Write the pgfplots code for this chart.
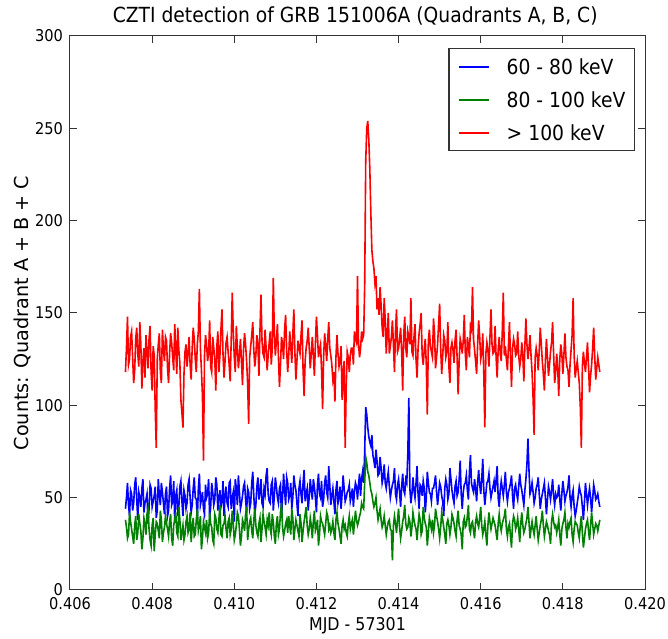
\documentclass[border=0pt]{standalone}
\usepackage{pgfplots}
\pgfplotsset{compat=1.18}
\usepackage{pgfplotstable}
\usepackage{fontspec}
\setmainfont{DejaVu Sans}[FakeStretch=0.9]
\newfontfamily\ylabfont{DejaVu Sans}

% counts per bin
\pgfplotstableread{
x R B G
0.407350 118 44 38
0.407375 131 50 34
0.407400 148 58 28
0.407425 122 46 30
0.407450 125 40 42
0.407475 137 54 37
0.407500 140 52 33
0.407525 126 43 29
0.407550 112 47 25
0.407575 119 57 35
0.407600 136 61 40
0.407625 142 49 27
0.407650 128 38 31
0.407675 121 53 41
0.407700 145 50 36
0.407725 133 45 32
0.407750 109 55 22
0.407775 124 60 28
0.407800 131 42 39
0.407825 115 47 36
0.407850 138 49 30
0.407875 129 52 41
0.407900 120 36 44
0.407925 136 44 33
0.407950 143 57 27
0.407975 118 55 24
0.408000 108 45 35
0.408025 132 48 39
0.408050 127 51 21
0.408075 98 56 30
0.408100 77 39 37
0.408125 125 43 36
0.408150 133 60 32
0.408175 139 51 28
0.408200 118 46 43
0.408225 112 58 38
0.408250 141 53 26
0.408275 130 47 31
0.408300 124 41 34
0.408325 137 52 40
0.408350 135 56 36
0.408375 120 40 33
0.408400 112 43 29
0.408425 128 55 37
0.408450 139 62 41
0.408475 134 46 28
0.408500 126 48 24
0.408525 119 59 35
0.408550 144 37 38
0.408575 131 51 42
0.408600 117 54 31
0.408625 142 40 29
0.408650 130 45 45
0.408675 123 56 38
0.408700 103 59 27
0.408725 96 48 31
0.408750 88 40 35
0.408775 117 54 27
0.408800 129 51 30
0.408825 133 44 37
0.408850 121 47 40
0.408875 128 57 31
0.408900 137 60 33
0.408925 122 50 42
0.408950 114 42 26
0.408975 131 46 34
0.409000 142 55 39
0.409025 136 61 29
0.409050 125 50 30
0.409075 118 49 38
0.409100 133 38 44
0.409125 140 55 32
0.409150 163 63 35
0.409175 131 46 40
0.409200 119 49 22
0.409225 105 53 28
0.409250 70 44 37
0.409275 127 41 34
0.409300 138 57 31
0.409325 133 50 38
0.409350 124 52 28
0.409375 128 60 31
0.409400 146 39 42
0.409425 121 45 36
0.409450 118 58 34
0.409475 137 53 27
0.409500 131 46 25
0.409525 125 49 41
0.409550 108 61 39
0.409575 132 57 33
0.409600 140 43 31
0.409625 118 50 38
0.409650 127 54 46
0.409675 141 45 30
0.409700 152 48 29
0.409725 128 59 35
0.409750 115 40 36
0.409775 124 51 40
0.409800 134 56 33
0.409825 137 47 28
0.409850 129 45 37
0.409875 122 58 39
0.409900 113 59 30
0.409925 135 44 33
0.409950 161 50 43
0.409975 140 53 36
0.410000 126 37 27
0.410025 118 60 30
0.410050 143 55 35
0.410075 131 46 42
0.410100 120 62 40
0.410125 127 53 33
0.410150 136 44 24
0.410175 124 47 29
0.410200 111 51 38
0.410225 130 56 36
0.410250 139 58 32
0.410275 133 49 41
0.410300 124 42 45
0.410325 112 55 27
0.410350 90 53 33
0.410375 126 44 37
0.410400 132 47 39
0.410425 138 58 32
0.410450 145 64 28
0.410475 130 51 38
0.410500 121 41 44
0.410525 127 46 35
0.410550 138 56 31
0.410575 133 61 29
0.410600 116 49 36
0.410625 140 53 39
0.410650 160 60 26
0.410675 135 47 33
0.410700 128 45 41
0.410725 126 55 37
0.410750 141 52 34
0.410775 131 62 30
0.410800 119 66 38
0.410825 127 52 35
0.410850 134 48 42
0.410875 140 47 33
0.410900 122 57 30
0.410925 131 59 41
0.410950 169 43 37
0.410975 139 51 29
0.411000 127 61 25
0.411025 135 56 36
0.411050 144 50 40
0.411075 126 47 30
0.411100 110 55 33
0.411125 122 57 42
0.411150 137 39 47
0.411175 133 50 34
0.411200 125 63 29
0.411225 141 54 32
0.411250 149 46 36
0.411275 130 61 38
0.411300 118 58 31
0.411325 127 49 40
0.411350 140 51 35
0.411375 132 58 30
0.411400 123 44 44
0.411425 138 50 39
0.411450 152 62 27
0.411475 129 57 33
0.411500 114 54 38
0.411525 124 47 35
0.411550 135 40 32
0.411575 131 55 29
0.411600 128 59 41
0.411625 138 52 36
0.411650 146 47 26
0.411675 119 58 32
0.411700 105 65 37
0.411725 124 48 41
0.411750 131 52 45
0.411775 135 55 35
0.411800 142 43 30
0.411825 131 51 33
0.411850 120 60 39
0.411875 128 54 35
0.411900 137 49 28
0.411925 127 60 37
0.411950 116 56 43
0.411975 133 50 32
0.412000 148 42 34
0.412025 138 57 38
0.412050 126 63 24
0.412075 130 52 30
0.412100 133 50 40
0.412125 119 59 37
0.412150 98 45 36
0.412175 126 49 33
0.412200 139 58 30
0.412225 132 62 36
0.412250 124 53 42
0.412275 136 50 40
0.412300 145 67 33
0.412325 131 57 35
0.412350 127 46 31
0.412375 122 51 33
0.412400 114 55 37
0.412425 118 48 31
0.412450 102 41 27
0.412475 126 54 38
0.412500 138 59 42
0.412525 128 47 36
0.412550 121 50 33
0.412575 124 56 29
0.412600 132 44 25
0.412625 103 52 35
0.412650 117 62 38
0.412675 124 55 33
0.412700 77 48 35
0.412725 110 50 31
0.412750 129 53 29
0.412775 126 54 36
0.412800 118 57 40
0.412825 127 48 33
0.412850 131 51 36
0.412875 131 55 38
0.412900 122 45 30
0.412925 140 53 36
0.412950 136 58 43
0.412975 134 56 38
0.413000 170 49 35
0.413025 133 57 37
0.413050 126 63 40
0.413075 131 51 42
0.413100 140 60 47
0.413125 136 64 45
0.413150 138 58 44
0.413175 165 75 58
0.413200 232 99 72
0.413225 250 95 69
0.413250 254 88 64
0.413275 244 83 62
0.413300 228 80 58
0.413325 204 78 54
0.413350 184 84 52
0.413375 178 73 48
0.413400 174 70 45
0.413425 166 66 47
0.413450 170 76 50
0.413475 152 70 43
0.413500 158 62 38
0.413525 149 63 41
0.413550 164 72 44
0.413575 154 66 38
0.413600 142 58 34
0.413625 137 61 36
0.413650 158 68 40
0.413675 146 58 35
0.413700 128 55 30
0.413725 139 60 34
0.413750 150 64 37
0.413775 128 56 38
0.413800 132 50 33
0.413825 137 54 32
0.413850 146 57 16
0.413875 133 59 35
0.413900 118 66 40
0.413925 140 52 36
0.413950 152 49 31
0.413975 129 57 38
0.414000 131 60 44
0.414025 136 53 34
0.414050 142 45 28
0.414075 129 56 32
0.414100 108 63 37
0.414125 138 54 40
0.414150 148 52 46
0.414175 131 60 36
0.414200 126 58 33
0.414225 140 74 34
0.414250 137 104 39
0.414275 133 55 37
0.414300 158 47 29
0.414325 129 52 34
0.414350 127 61 42
0.414375 137 54 38
0.414400 144 50 35
0.414425 125 58 33
0.414450 115 67 27
0.414475 131 52 35
0.414500 139 44 41
0.414525 144 57 38
0.414550 150 56 30
0.414575 127 51 32
0.414600 122 59 45
0.414625 130 55 39
0.414650 136 42 36
0.414675 122 50 34
0.414700 95 64 24
0.414725 135 58 31
0.414750 141 53 39
0.414775 132 52 36
0.414800 129 48 33
0.414825 126 55 38
0.414850 147 55 31
0.414875 139 58 35
0.414900 120 62 44
0.414925 126 53 40
0.414950 133 46 37
0.414975 144 52 33
0.415000 155 58 28
0.415025 131 56 34
0.415050 117 51 42
0.415075 127 48 38
0.415100 138 40 34
0.415125 135 55 30
0.415150 126 60 25
0.415175 129 57 36
0.415200 145 49 38
0.415225 121 52 35
0.415250 112 66 30
0.415275 131 60 34
0.415300 134 54 41
0.415325 130 50 39
0.415350 123 47 36
0.415375 135 56 32
0.415400 141 59 29
0.415425 126 51 38
0.415450 106 53 43
0.415475 124 60 35
0.415500 136 70 33
0.415525 133 52 30
0.415550 128 44 22
0.415575 135 53 37
0.415600 149 57 39
0.415625 128 58 34
0.415650 119 62 35
0.415675 137 54 40
0.415700 132 49 46
0.415725 126 64 33
0.415750 143 73 31
0.415775 141 58 36
0.415800 164 55 37
0.415825 136 53 32
0.415850 130 60 28
0.415875 124 55 37
0.415900 117 48 40
0.415925 133 58 36
0.415950 146 65 34
0.415975 137 57 39
0.416000 125 52 45
0.416025 128 60 35
0.416050 139 71 30
0.416075 117 54 33
0.416100 88 46 37
0.416125 128 52 30
0.416150 134 58 24
0.416175 130 59 35
0.416200 121 63 42
0.416225 137 55 37
0.416250 152 50 33
0.416275 133 53 36
0.416300 128 56 39
0.416325 129 59 37
0.416350 143 53 35
0.416375 126 60 31
0.416400 115 67 27
0.416425 130 50 36
0.416450 137 45 41
0.416475 128 54 35
0.416500 124 59 32
0.416525 140 55 36
0.416550 161 51 38
0.416575 127 57 40
0.416600 132 64 44
0.416625 125 53 33
0.416650 119 48 29
0.416675 132 53 34
0.416700 145 55 36
0.416725 126 58 29
0.416750 110 62 23
0.416775 131 51 36
0.416800 136 44 40
0.416825 133 55 38
0.416850 127 57 33
0.416875 128 52 35
0.416900 140 49 39
0.416925 127 56 33
0.416950 121 63 26
0.416975 125 57 36
0.417000 134 54 42
0.417025 127 50 35
0.417050 113 46 31
0.417075 132 54 33
0.417100 147 60 36
0.417125 133 68 39
0.417150 125 82 45
0.417175 131 65 37
0.417200 138 52 28
0.417225 127 54 33
0.417250 118 58 37
0.417275 104 53 33
0.417300 84 47 30
0.417325 126 50 35
0.417350 131 55 40
0.417375 127 57 33
0.417400 119 61 27
0.417425 130 52 31
0.417450 142 44 35
0.417475 133 49 38
0.417500 124 52 43
0.417525 117 55 35
0.417550 108 58 29
0.417575 124 50 33
0.417600 136 41 37
0.417625 126 49 35
0.417650 116 56 32
0.417675 122 53 30
0.417700 129 49 25
0.417725 134 54 37
0.417750 145 60 41
0.417775 128 51 37
0.417800 112 46 34
0.417825 118 52 35
0.417850 128 50 31
0.417875 120 51 34
0.417900 105 57 38
0.417925 125 49 30
0.417950 133 43 24
0.417975 128 52 33
0.418000 117 59 36
0.418025 127 54 38
0.418050 139 48 42
0.418075 126 51 34
0.418100 121 53 28
0.418125 119 56 36
0.418150 110 62 34
0.418175 122 50 37
0.418200 130 45 39
0.418225 138 51 30
0.418250 158 54 26
0.418275 127 45 33
0.418300 115 40 37
0.418325 120 43 36
0.418350 124 47 35
0.418375 118 51 31
0.418400 112 56 28
0.418425 99 53 35
0.418450 77 51 40
0.418475 121 45 31
0.418500 129 38 23
0.418525 123 47 28
0.418550 118 58 33
0.418575 126 52 36
0.418600 134 46 38
0.418625 121 51 32
0.418650 107 55 27
0.418675 116 50 35
0.418700 122 42 42
0.418725 131 49 36
0.418750 142 57 30
0.418775 127 54 33
0.418800 114 49 36
0.418825 120 50 35
0.418850 126 52 32
0.418875 122 48 35
0.418900 118 45 38
}\czti

\definecolor{mplgreen}{rgb}{0,0.5,0}

\begin{document}
\begin{tikzpicture}
\begin{axis}[
    name=ax,
    width=287.5pt,
    height=277pt,
    scale only axis,
    %
    xmin=0.406, xmax=0.420,
    ymin=0, ymax=300,
    xtick={0.406,0.408,0.410,0.412,0.414,0.416,0.418,0.420},
    ytick={0,50,100,150,200,250,300},
    scaled x ticks=false,
    x tick label style={
        /pgf/number format/.cd, fixed, fixed zerofill, precision=3
    },
    /pgf/number format/assume math mode=true,
    tick label style={font=\fontsize{8.1}{9.7}\selectfont},
    tick align=inside,
    major tick length=3.5pt,
    axis line style={line width=0.5pt, black!80},
    every tick/.style={black!80, line width=0.5pt},
    %
    title={CZTI detection of GRB 151006A (Quadrants A, B, C)},
    every axis title shift=0pt,
    title style={
        font=\fontsize{10.4}{12}\selectfont,
        at={(axis description cs:0.496,1.0235)},
        anchor=base
    },
    xlabel={MJD - 57301},
    xlabel style={
        font=\fontsize{8.8}{10}\selectfont,
        at={(axis description cs:0.5,-0.074)},
        anchor=base
    },
    ylabel={Counts: Quadrant A + B + C},
    ylabel style={
        font=\ylabfont\fontsize{9.6}{11}\selectfont,
        at={(axis description cs:-0.0835,0.5)},
        anchor=center
    },
    %
    legend style={
        at={(0.9826,0.9783)},
        anchor=north east,
        draw=black!80,
        line width=0.6pt,
        font=\fontsize{10.4}{12}\selectfont,
        nodes={inner sep=0pt, text height=7.6pt, text depth=0pt},
        row sep=8.9pt,
        column sep=0pt,
        inner xsep=4.5pt,
        inner ysep=5.2pt
    },
    legend image code/.code={
        \draw[#1, line width=1pt] (0pt,0pt) -- (15pt,0pt);
        \path (23.5pt,0pt);
    },
    legend cell align=left
]
\addplot[blue, line width=0.8pt] table[x=x, y=B] {\czti};
\addlegendentry{60 - 80 keV}
\addplot[mplgreen, line width=0.8pt] table[x=x, y=G] {\czti};
\addlegendentry{80 - 100 keV}
\addplot[red, line width=0.8pt] table[x=x, y=R] {\czti};
\addlegendentry{> 100 keV}
\end{axis}
\pgfresetboundingbox
\path[use as bounding box]
    ([shift={(-35pt,-24.5pt)}]ax.south west)
    rectangle ([shift={(11.5pt,18pt)}]ax.north east);
\end{tikzpicture}
\end{document}
